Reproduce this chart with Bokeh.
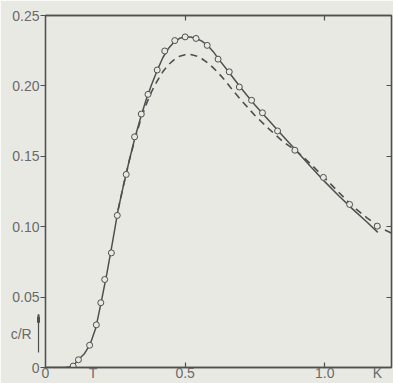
from bokeh.plotting import figure
from bokeh.models import Range1d, LinearAxis, FixedTicker, Arrow, NormalHead
from bokeh.embed import file_html
from bokeh.resources import INLINE

# measured points (circles)
T_pts = [0.099, 0.118, 0.158, 0.182, 0.198, 0.212, 0.236, 0.257, 0.289, 0.319, 0.343,
         0.367, 0.400, 0.427, 0.463, 0.500, 0.539, 0.579, 0.618, 0.658, 0.694, 0.738,
         0.777, 0.831, 0.893, 0.995, 1.089, 1.188]
c_pts = [0.001, 0.0055, 0.0158, 0.0303, 0.046, 0.0625, 0.0814, 0.108, 0.1371, 0.1638, 0.180,
         0.194, 0.2113, 0.2248, 0.2322, 0.2348, 0.2337, 0.2288, 0.219, 0.210, 0.1992, 0.1898,
         0.1809, 0.168, 0.1543, 0.1350, 0.1158, 0.1004]

# solid curve
T_solid = [0, 0.07, 0.09, 0.10, 0.12, 0.14, 0.16, 0.18, 0.20, 0.22, 0.24, 0.26, 0.28, 0.30,
           0.32, 0.34, 0.36, 0.38, 0.40, 0.42, 0.44, 0.46, 0.48, 0.50, 0.52, 0.54, 0.56, 0.58,
           0.60, 0.62, 0.65, 0.70, 0.75, 0.80, 0.85, 0.90, 0.95, 1.00, 1.05, 1.10, 1.15, 1.19]
c_solid = [0, 0, 0.0005, 0.0015, 0.006, 0.010, 0.0165, 0.028, 0.047, 0.067, 0.089, 0.112, 0.130,
           0.147, 0.163, 0.177, 0.190, 0.201, 0.211, 0.220, 0.2265, 0.231, 0.2338, 0.2348, 0.2347,
           0.2337, 0.2318, 0.2288, 0.2245, 0.219, 0.2115, 0.1985, 0.1865, 0.1755, 0.1645, 0.1535,
           0.1425, 0.132, 0.122, 0.1125, 0.1035, 0.096]

# dashed curve
T_dash = [0.26, 0.28, 0.30, 0.32, 0.34, 0.36, 0.38, 0.40, 0.42, 0.44, 0.46, 0.48, 0.50, 0.52,
          0.54, 0.56, 0.58, 0.60, 0.62, 0.64, 0.66, 0.70, 0.75, 0.80, 0.85, 0.90, 0.95, 1.00,
          1.05, 1.10, 1.15, 1.20, 1.245]
c_dash = [0.112, 0.130, 0.147, 0.162, 0.1755, 0.1865, 0.196, 0.2035, 0.210, 0.215, 0.2185,
          0.221, 0.2222, 0.2223, 0.2213, 0.2193, 0.2165, 0.213, 0.209, 0.2045, 0.1995, 0.190,
          0.179, 0.1695, 0.1605, 0.1535, 0.1445, 0.1345, 0.1245, 0.1145, 0.1065, 0.099, 0.095]

y_ticks = [0, 0.05, 0.10, 0.15, 0.20, 0.25]
y_labels = ["0", "0.05", "0.10", "0.15", "0.20", "0.25"]
y_name_pos = 0.024
y_name = "c/R\u00a0\u00a0"
x_ticks = [0, 0.5, 1.0]
x_labels = ["0", "0.5", "1.0"]
x_name_pos = 0.17
x_name = "T"
x_unit_pos = 1.189
x_unit = "K"

BG = "#e9e9e3"
INK = "#4f4f4f"
TXT = "#6a6a6a"
FONT = "Liberation Sans"

p = figure(width=393, height=383, x_range=Range1d(0, 1.239), y_range=Range1d(0, 0.25),
           output_backend="svg", toolbar_location=None, x_axis_location=None, y_axis_location=None,
           min_border_left=45, min_border_right=2, min_border_top=15, min_border_bottom=15)
p.background_fill_color = BG
p.border_fill_color = BG
p.outline_line_color = INK
p.outline_line_width = 1.3
p.grid.visible = False


def tick_axis(ticks, tin, tout):
    ax = LinearAxis(ticker=FixedTicker(ticks=ticks))
    ax.major_tick_in = tin
    ax.major_tick_out = tout
    ax.minor_tick_in = 0
    ax.minor_tick_out = 0
    ax.axis_line_color = INK
    ax.axis_line_width = 1.3
    ax.major_tick_line_color = INK
    ax.major_tick_line_width = 1.2
    ax.major_label_text_color = None
    ax.major_label_text_font_size = "0px"
    ax.major_label_standoff = 0
    return ax


def label_axis(ticks, labels, standoff, size):
    ax = LinearAxis(ticker=FixedTicker(ticks=ticks),
                    major_label_overrides={t: l for t, l in zip(ticks, labels)})
    ax.major_tick_in = 0
    ax.major_tick_out = 0
    ax.minor_tick_in = 0
    ax.minor_tick_out = 0
    ax.axis_line_color = None
    ax.major_tick_line_color = None
    ax.minor_tick_line_color = None
    ax.major_label_text_color = TXT
    ax.major_label_text_font = FONT
    ax.major_label_text_font_size = size
    ax.major_label_standoff = standoff
    return ax


# left: outward ticks, then labels (incl. axis name)
p.add_layout(tick_axis(y_ticks, 0, 5), "left")
p.add_layout(label_axis(y_ticks + [y_name_pos], y_labels + [y_name], 1, "14px"), "left")

# bottom: inward ticks, then labels (incl. axis name and unit)
p.add_layout(tick_axis([0.5, 1.0], 5, 0), "below")
p.add_layout(label_axis(x_ticks + [x_name_pos, x_unit_pos], x_labels + [x_name, x_unit], -3, "14px"), "below")

# right and top: inward ticks only
p.add_layout(tick_axis([0.05, 0.10, 0.15, 0.20], 5, 0), "right")
p.add_layout(tick_axis([0.5, 1.0], 5, 0), "above")

p.line(T_dash, c_dash, line_color=INK, line_width=1.6, line_dash="7 5")
p.line(T_solid, c_solid, line_color=INK, line_width=1.5)
p.scatter(T_pts, c_pts, marker="circle", size=6, line_color=INK, line_width=1, fill_color=BG)

# y-axis arrow next to c/R: shaft, then a tapered head built from three short pieces
AX = -0.025
TIP = 0.0376
p.add_layout(Arrow(x_start=AX, y_start=0.0, x_end=AX, y_end=TIP,
                   line_color=INK, line_width=1.2,
                   end=NormalHead(size=38, fill_color=None, line_color=None)))
for y_tip, w, s in [(TIP - 0.0036, 5, 3), (TIP - 0.0018, 3.5, 3), (TIP, 2, 3)]:
    p.add_layout(Arrow(x_start=AX, y_start=0.0, x_end=AX, y_end=y_tip,
                       line_color=INK, line_width=w,
                       end=NormalHead(size=s, fill_color=None, line_color=None)))

open("out.html", "w").write(file_html(p, INLINE))
